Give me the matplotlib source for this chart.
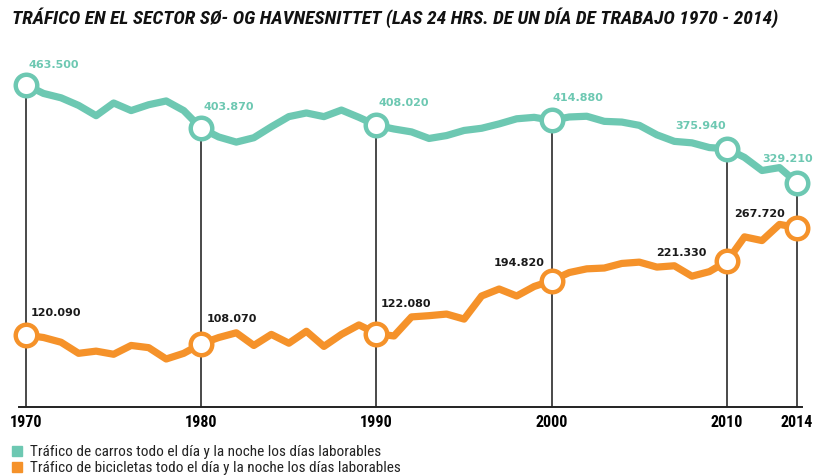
import matplotlib
matplotlib.use("Agg")
import matplotlib.pyplot as plt
from matplotlib.patches import Rectangle

# ---------------- data ----------------
years = list(range(1970, 2015))
cars = [463500, 451800, 445800, 435400, 421300, 438700, 428300, 436300, 441500, 428300,
        403870, 392000, 385000, 391000, 406000, 420000, 425000, 420000, 429000, 419000,
        408020, 403000, 399000, 390000, 394000, 401000, 404000, 410000, 417000, 419000,
        414880, 419500, 420500, 413500, 412500, 408000, 395000, 386000, 384000, 377500,
        375940, 364000, 346000, 350000, 329210]
bikes = [120090, 116700, 110200, 95000, 98000, 93700, 105800, 102800, 87200, 95000,
         108070, 116700, 123200, 105800, 121000, 108900, 125300, 104500, 121000, 134000,
         122080, 118800, 145000, 146700, 148900, 142000, 173700, 183300, 173700, 186800,
         194820, 205900, 211000, 212100, 218400, 220200, 213400, 215200, 200900, 207200,
         221330, 254900, 249800, 272000, 267720]
key_years = [1970, 1980, 1990, 2000, 2010, 2014]
tick_labels = ["1970", "1980", "1990", "2000", "2010", "2014"]
title = "TRÁFICO EN EL SECTOR SØ- OG HAVNESNITTET (LAS 24 HRS. DE UN DÍA DE TRABAJO 1970 - 2014)"
legend_labels = ["Tráfico de carros todo el día y la noche los días laborables",
                 "Tráfico de bicicletas todo el día y la noche los días laborables"]

TEAL = "#6DC8B2"
ORANGE = "#F5922A"
NARROW = ["Roboto Condensed", "Liberation Sans Narrow", "Roboto", "DejaVu Sans"]

W, H = 814, 477
fig = plt.figure(figsize=(W / 100, H / 100), dpi=100)
left_px, right_px = 19, 802.3
bottom_px, top_px = 408, 60
ax = fig.add_axes([left_px / W, 1 - bottom_px / H, (right_px - left_px) / W, (bottom_px - top_px) / H])
ax.set_xlim(1969.6, 2014.3)
ax.set_ylim(21300, 499100)

key_idx = [years.index(y) for y in key_years]
car_key = [cars[i] for i in key_idx]
bike_key = [bikes[i] for i in key_idx]

# vertical guide lines
ax.vlines(key_years, ax.get_ylim()[0], car_key, color="#4a4a4a", lw=1.4, zorder=1)

for vals, col in ((cars, TEAL), (bikes, ORANGE)):
    ax.plot(years, vals, color=col, lw=5.2, solid_joinstyle="round", solid_capstyle="round",
            zorder=3, clip_on=False)
    ax.plot([years[i] for i in key_idx], [vals[i] for i in key_idx], ls="none", marker="o",
            ms=15.5, mfc="white", mec=col, mew=3.2, zorder=4, clip_on=False)

# value labels (offsets in pixels relative to circle centre)
car_off = [(2, 21, "left"), (2, 22, "left"), (2, 23, "left"), (1, 23, "left"), (-1, 24, "right"), (-9, 25, "center")]
bike_off = [(5, 23, "left"), (5, 26, "left"), (4, 31, "left"), (-7, 19, "right"), (-20, 9, "right"), (-12, 15, "right")]
for yr, v, (dx, dy, ha) in zip(key_years, car_key, car_off):
    ax.annotate(f"{v:,}".replace(",", "."), (yr, v), xytext=(dx * 0.72, dy * 0.72),
                textcoords="offset points", ha=ha, va="center", fontsize=8,
                fontweight="bold", color=TEAL, zorder=5, annotation_clip=False)
for yr, v, (dx, dy, ha) in zip(key_years, bike_key, bike_off):
    ax.annotate(f"{v:,}".replace(",", "."), (yr, v), xytext=(dx * 0.72, dy * 0.72),
                textcoords="offset points", ha=ha, va="center", fontsize=8,
                fontweight="bold", color="#1a1a1a", zorder=5, annotation_clip=False)

# axes styling
for s in ("top", "right", "left"):
    ax.spines[s].set_visible(False)
ax.spines["bottom"].set_linewidth(1.4)
ax.spines["bottom"].set_color("#222222")
ax.set_yticks([])
ax.set_xticks(key_years)
ax.set_xticklabels(tick_labels, fontfamily=NARROW, fontweight="bold", fontsize=11.5)
ax.tick_params(axis="x", length=0, pad=5)

# title
t_title = fig.text(12 / W, 1 - 18 / H, title, fontfamily=NARROW, fontweight="bold", fontstyle="italic",
                   fontsize=11.5, va="center", ha="left", color="#111111")

# legend
leg_texts = []
for i, (lab, col) in enumerate(zip(legend_labels, [TEAL, ORANGE])):
    yc = 452 + i * 16
    fig.patches.append(Rectangle((12 / W, 1 - (yc + 5) / H), 10 / W, 10 / H,
                                 transform=fig.transFigure, color=col))
    leg_texts.append(fig.text(30 / W, 1 - yc / H, lab, fontfamily=NARROW, fontsize=10.5,
                              va="center", ha="left", color="#222222"))

# fit text widths to the reference
fig.canvas.draw()
r = fig.canvas.get_renderer()
def fit(t, target_px, maxfs):
    w = t.get_window_extent(r).width
    t.set_fontsize(min(maxfs, t.get_fontsize() * target_px / w))
fit(t_title, 768, 14)
fit(leg_texts[0], 384, 11)
leg_texts[1].set_fontsize(leg_texts[0].get_fontsize())

fig.savefig("out.png", dpi=100)
